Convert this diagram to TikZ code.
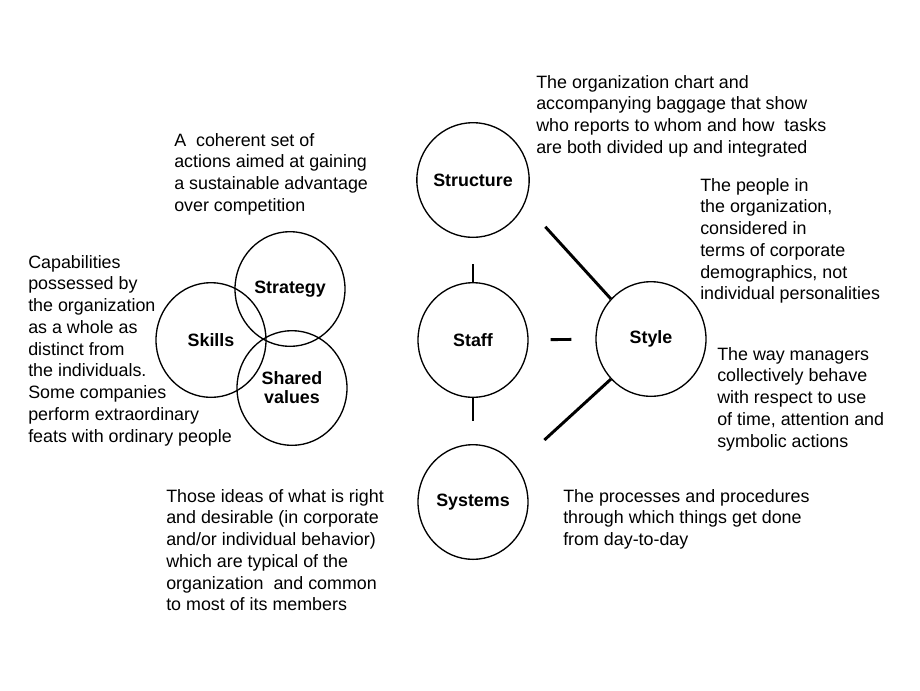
\documentclass[tikz,border=0pt]{standalone}
\usepackage{fontspec}
\setmainfont{Liberation Sans}
\usetikzlibrary{shapes.geometric}
\begin{document}
\begin{tikzpicture}[x=0.75pt, y=-0.75pt,
    every node/.style={font=\fontsize{13.4}{16.3}\selectfont},
    sevens/.style={draw, ellipse, line width=1pt, minimum width=82.5pt, minimum height=86pt,
        inner sep=0pt, align=center, font=\fontsize{13.4}{14.3}\selectfont\bfseries},
    desc/.style={anchor=north west, inner sep=0pt, align=left},
    link/.style={line width=2.2pt}]
    \useasboundingbox (0,0) rectangle (920,690);

    % the seven S
    \node[sevens] (structure) at (473,180) {Structure};
    \node[sevens] (staff) at (473,340) {Staff};
    \node[sevens] (systems) at (473,502) {Systems};
    \node[sevens] (style) at (651,339) {Style};
    \node[sevens] (skills) at (211,340) {Skills};
    \node[sevens] (strategy) at (290,289) {Strategy};
    \node[sevens] (shared) at (292,388) {Shared\\values};

    % short bars between the hard S
    \draw[link, shorten <=19.5pt] (structure) -- (staff);
    \draw[link, shorten >=17pt] (staff) -- (systems);
    \draw[link, shorten <=16.5pt, shorten >=18pt] (staff) -- (style);
    \draw[link, shorten <=23pt] (structure.-25) -- (style.135);
    \draw[link, shorten <=28.5pt] (systems.40) -- (style.-135);

    % descriptions
    \node[desc] (structuretxt) at (536,75) {The organization chart and\\accompanying baggage that show\\who reports to whom and how\ \ tasks\\are both divided up and integrated};
    \node[desc] (strategytxt) at (174,133) {A\ \ coherent set of\\actions aimed at gaining\\a sustainable advantage\\over competition};
    \node[desc] (skillstxt) at (28,255) {Capabilities\\possessed by\\the organization\\as a whole as\\distinct from\\the individuals.\\Some companies\\perform extraordinary\\feats with ordinary people};
    \node[desc] (stafftxt) at (700,178) {The people in\\the organization,\\considered in\\terms of corporate\\demographics, not\\individual personalities};
    \node[desc] (styletxt) at (717,347) {The way managers\\collectively behave\\with respect to use\\of time, attention and\\symbolic actions};
    \node[desc] (systemstxt) at (563,489) {The processes and procedures\\through which things get done\\from day-to-day};
    \node[desc] (sharedtxt) at (166,489) {Those ideas of what is right\\and desirable (in corporate\\and/or individual behavior)\\which are typical of the\\organization\ \ and common\\to most of its members};

\end{tikzpicture}
\end{document}
